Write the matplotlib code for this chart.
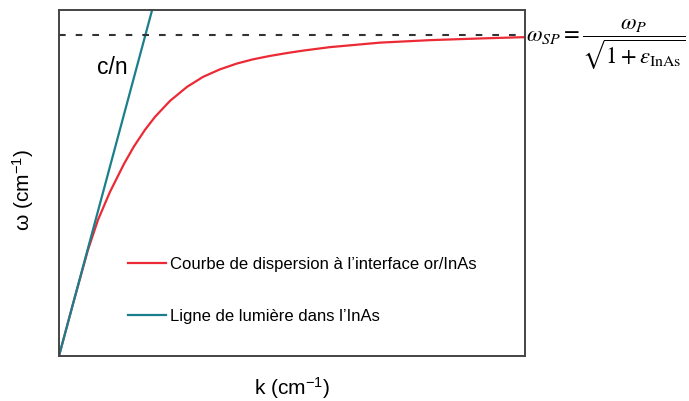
import matplotlib
matplotlib.use("Agg")
import matplotlib.pyplot as plt

# values (axes normalised to 0..1, no ticks)
k_sp = [0.0, 0.0300, 0.0622, 0.0837, 0.1094, 0.1395, 0.1609, 0.1845, 0.2060,
        0.2382, 0.2747, 0.3090, 0.3455, 0.3820, 0.4163, 0.4528, 0.4893,
        0.5236, 0.5815, 0.6888, 0.7961, 0.9034, 1.0]
w_sp = [0.0, 0.1503, 0.3064, 0.3931, 0.4740, 0.5549, 0.6055, 0.6532, 0.6908,
        0.7370, 0.7775, 0.8064, 0.8283, 0.8451, 0.8572, 0.8671, 0.8754,
        0.8824, 0.8925, 0.9055, 0.9127, 0.9176, 0.9214]
k_light = [0.0, 0.21]
w_light = [0.0, 1.05]
w_asymptote = 0.9277

label_sp = "Courbe de dispersion à l’interface or/InAs"
label_light = "Ligne de lumière dans l’InAs"

plt.rcParams['font.family'] = ['Liberation Sans', 'DejaVu Sans']
plt.rcParams['mathtext.fontset'] = 'custom'
plt.rcParams['mathtext.rm'] = 'Liberation Sans'
plt.rcParams['mathtext.it'] = 'Liberation Sans:italic'

fig = plt.figure(figsize=(6.89, 4.01), dpi=100)
ax = fig.add_axes([0.0856, 0.1122, 0.676, 0.863])

ax.plot(k_sp, w_sp, color='#ec2a35', lw=1.6, label=label_sp,
        solid_joinstyle='round')
ax.plot(k_light, w_light, color='#1a7f8b', lw=1.6, label=label_light)
ax.axhline(w_asymptote, color='#333333', lw=1.5, ls=(0, (3.2, 4.8)))

ax.set_xlim(0, 1)
ax.set_ylim(0, 1)
ax.set_xticks([])
ax.set_yticks([])
for s in ax.spines.values():
    s.set_color('#444444')
    s.set_linewidth(1.4)

ax.set_xlabel("k (cm$^{-1}$)", fontsize=15, labelpad=14)
ax.set_ylabel("ω (cm$^{-1}$)", fontsize=15)
ax.yaxis.set_label_coords(-0.05, 0.48)

ax.text(0.114, 0.835, "c/n", fontsize=16.5, ha='center', va='center', transform=ax.transAxes)

ax.legend(loc='lower left', bbox_to_anchor=(0.148, 0.0925), frameon=False,
          fontsize=12, borderpad=0, borderaxespad=0, handlelength=2.3,
          handletextpad=0.2, labelspacing=2.24)

fig.text(0.764, 0.888, r'$\omega_{SP} = \dfrac{\omega_P}{\sqrt{1+\varepsilon_{\mathrm{InAs}}}}$',
         fontsize=16.3, ha='left', va='center', math_fontfamily='stix')

fig.savefig("out.png", dpi=100)
